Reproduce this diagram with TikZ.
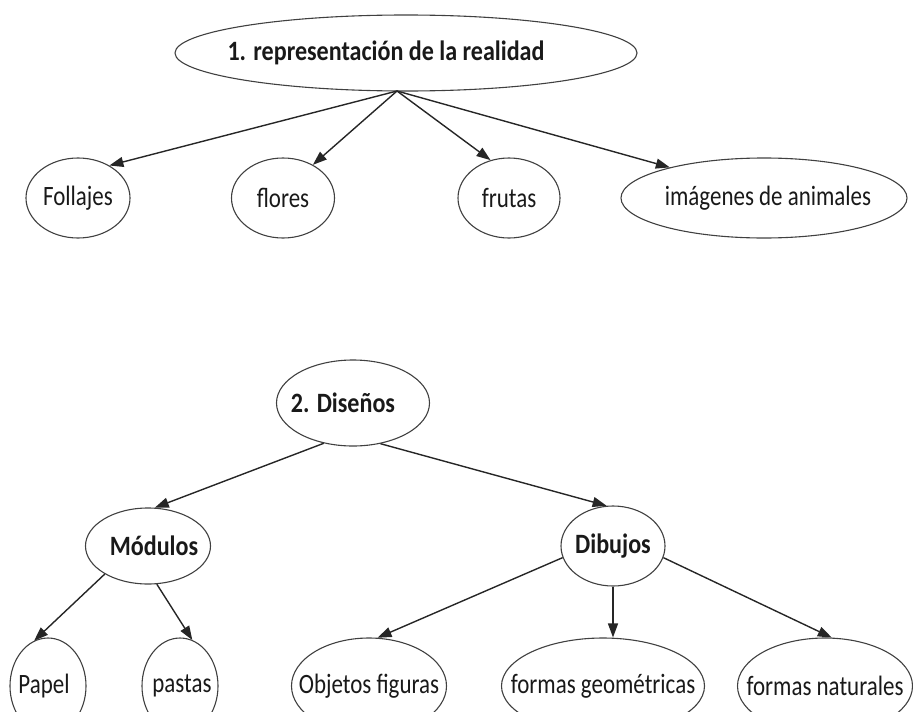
\documentclass[tikz,border=0pt]{standalone}
\usepackage{fontspec}
\setmainfont{Carlito}[FakeStretch=0.82]
\newfontfamily\boldcal{Carlito}[FakeStretch=0.86]
\usetikzlibrary{shapes.geometric,arrows.meta}
\newcommand{\zt}[2][0pt]{\hspace*{#1}\makebox[0pt][c]{#2}\hspace*{-#1}}
\begin{document}
\begin{tikzpicture}[x=1pt,y=-1pt,
  el/.style={ellipse,draw=black!75,line width=1.1pt,inner sep=0pt,
    font=\fontsize{28}{30}\selectfont,text=black!90},
  bel/.style={el,font=\fontsize{28}{30}\boldcal\bfseries},
  arr/.style={draw=black!85,line width=1.4pt,-{Triangle[length=14pt,width=10pt]}}]
\useasboundingbox (0,0) rectangle (913,712);
\clip (0,0) rectangle (913,712);
% top tree
\node[bel,minimum width=462pt,minimum height=76pt] (top) at (406,53) {\zt[-20pt]{1. representación de la realidad}};
\node[el,minimum width=104pt,minimum height=80pt] (fol) at (78,198) {\zt{Follajes}};
\node[el,minimum width=103pt,minimum height=80pt] (flo) at (283,198) {\zt{flores}};
\node[el,minimum width=102pt,minimum height=80pt] (fru) at (509,198) {\zt{frutas}};
\node[el,minimum width=286pt,minimum height=80pt] (img) at (764,198) {\zt[4pt]{imágenes de animales}};
\coordinate (ts) at (397,91);
\draw[arr] (ts) -- (fol.46);
\draw[arr] (ts) -- (flo.48);
\draw[arr] (ts) -- (fru.116);
\draw[arr] (ts) -- (img.162);
% bottom tree
\node[bel,minimum width=153pt,minimum height=86pt] (dis) at (353,403) {\zt[-10pt]{2. Diseños}};
\node[bel,minimum width=125pt,minimum height=76pt] (mod) at (148,546) {\zt[6pt]{Módulos}};
\node[bel,minimum width=104pt,minimum height=80pt] (dib) at (613,546) {\zt{Dibujos}};
\node[el,minimum width=76pt,minimum height=96pt] (pap) at (48,686) {\zt[-4pt]{Papel}};
\node[el,minimum width=76pt,minimum height=96pt] (pas) at (180,686) {\zt[2pt]{pastas}};
\node[el,minimum width=155pt,minimum height=96pt] (obj) at (369,686) {\zt{Objetos figuras}};
\node[el,minimum width=203pt,minimum height=96pt] (geo) at (603,686) {\zt{formas geométricas}};
\node[el,minimum width=175pt,minimum height=96pt] (nat) at (825,686) {\zt{formas naturales}};
\draw[arr] (dis.234) -- (mod.80);
\draw[arr] (dis.304) -- (dib.99);
\draw[arr] (mod.213) -- (pap.107);
\draw[arr] (mod.283) -- (pas.75);
\draw[arr] (dib.193) -- (obj.80);
\draw[arr] (dib.270) -- (dib.270 |- geo.north);
\draw[arr] (dib.347) -- (nat.82);
\end{tikzpicture}
\end{document}
